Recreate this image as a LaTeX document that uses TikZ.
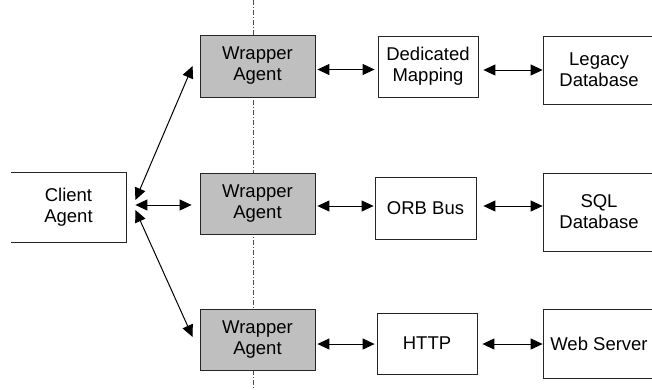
\documentclass[tikz,border=0pt]{standalone}
\usepackage{fontspec}
\setmainfont{Liberation Sans}
\usetikzlibrary{arrows.meta}

\tikzset{
  box/.style={draw=black!85, line width=0.8pt, fill=white, inner sep=0pt,
    align=center, font=\fontsize{18.5}{21}\selectfont},
  graybox/.style={box, fill=black!25},
  link/.style={line width=1pt,
    {Triangle[length=12pt,width=11pt]}-{Triangle[length=12pt,width=11pt]}},
  divider/.style={draw=black!70, line width=0.8pt,
    dash pattern=on 5pt off 2pt on 1pt off 2pt}
}

\begin{document}
\begin{tikzpicture}[x=1pt,y=-1pt]
  \useasboundingbox (0,0) rectangle (652,389);

  % vertical boundary behind the wrapper agents
  \draw[divider] (253.5,0) -- (253.5,389);

  % client (left side open)
  \node[box, draw=none, fill=none, minimum width=115pt, minimum height=69pt]
    (client) at (68.5,207) {Client\\Agent};
  \draw[black!85, line width=0.8pt]
    (client.north west) -- (client.north east) -- (client.south east) -- (client.south west);

  % wrapper agents
  \node[graybox, minimum width=115pt, minimum height=62pt] (w1) at (257.5,66) {Wrapper\\Agent};
  \node[graybox, minimum width=115pt, minimum height=61pt] (w2) at (257.5,203.5) {Wrapper\\Agent};
  \node[graybox, minimum width=115pt, minimum height=61pt] (w3) at (257.5,339.5) {Wrapper\\Agent};

  % middleware
  \node[box, minimum width=100pt, minimum height=61pt] (dm) at (428,66.5) {Dedicated\\Mapping};
  \node[box, minimum width=101pt, minimum height=62pt] (orb) at (425.5,208) {ORB Bus};
  \node[box, minimum width=100pt, minimum height=61pt] (http) at (427,343.5) {HTTP};

  % back ends (right edges run past the page)
  \node[box, minimum width=112pt, minimum height=68pt] (legacy) at (599,70) {Legacy\\Database};
  \node[box, minimum width=112pt, minimum height=78pt] (sql) at (599,212) {SQL\\Database};
  \node[box, minimum width=112pt, minimum height=69pt] (web) at (599,343.5) {Web Server};

  % client to wrappers
  \draw[link] ([shift={(9,-7)}]client.east) -- ([shift={(-7,0)}]w1.west);
  \draw[link] ([shift={(9,-2)}]client.east) -- ([shift={(-8,1.5)}]w2.west);
  \draw[link] ([shift={(9,3)}]client.east) -- ([shift={(-7,-2.5)}]w3.west);

  % wrappers to middleware
  \draw[link] ([shift={(2,3.5)}]w1.east) -- ([shift={(-3,3)}]dm.west);
  \draw[link] ([shift={(2,2.5)}]w2.east) -- ([shift={(-1,-2)}]orb.west);
  \draw[link] ([shift={(2,4.5)}]w3.east) -- ([shift={(-2,0.5)}]http.west);

  % middleware to back ends
  \draw[link] ([shift={(5,3.5)}]dm.east) -- (legacy.west);
  \draw[link] ([shift={(7,-2)}]orb.east) -- ([shift={(0,-6)}]sql.west);
  \draw[link] ([shift={(5,0.5)}]http.east) -- ([shift={(0,0.5)}]web.west);
\end{tikzpicture}
\end{document}
